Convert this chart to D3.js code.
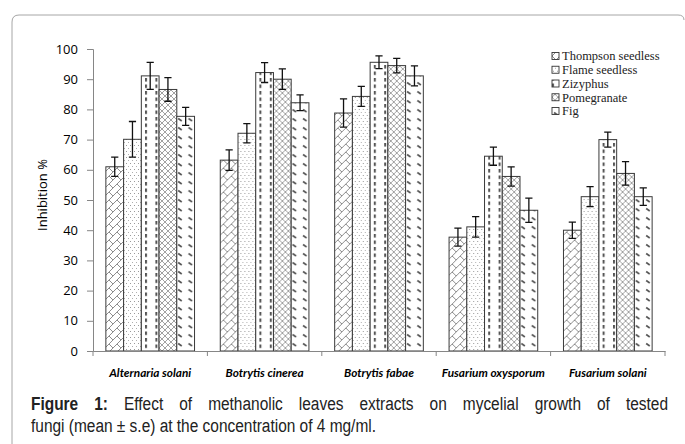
<!DOCTYPE html>
<html>
<head>
<meta charset="utf-8">
<script src="https://cdn.jsdelivr.net/npm/d3@7"></script>
<style>
  html, body { margin: 0; padding: 0; background: #fff; }
  svg { display: block; }
</style>
</head>
<body>
<svg id="chart" width="685" height="444"></svg>
<script>
// ---------- data ----------
const categories = ["Alternaria solani", "Botrytis cinerea", "Botrytis fabae", "Fusarium oxysporum", "Fusarium solani"];
const seriesNames = ["Thompson seedless", "Flame seedless", "Zizyphus", "Pomegranate", "Fig"];
const thompsonValues = [61.0, 63.2, 78.8, 37.7, 40.0];
const thompsonErr    = [3.2, 3.4, 4.7, 3.0, 2.7];
const flameValues    = [70.1, 72.1, 84.3, 41.1, 51.1];
const flameErr       = [5.9, 3.2, 3.3, 3.4, 3.3];
const zizyphusValues = [91.1, 92.2, 95.6, 64.5, 70.0];
const zizyphusErr    = [4.5, 3.3, 2.1, 3.0, 2.5];
const pomegranateValues = [86.6, 90.0, 94.5, 57.8, 58.8];
const pomegranateErr    = [3.9, 3.4, 2.4, 3.2, 3.9];
const figValues      = [77.7, 82.2, 91.1, 46.6, 51.1];
const figErr         = [3.0, 2.6, 3.3, 4.0, 2.9];
const yTicks = [0, 10, 20, 30, 40, 50, 60, 70, 80, 90, 100];
const yLabel = "Inhibition %";
const captionBold = "Figure 1:";
const captionLine1 = "Effect of methanolic leaves extracts on mycelial growth of tested";
const captionLine2 = "fungi (mean \u00b1 s.e) at the concentration of 4 mg/ml.";

const seriesValues = [thompsonValues, flameValues, zizyphusValues, pomegranateValues, figValues];
const seriesErrs = [thompsonErr, flameErr, zizyphusErr, pomegranateErr, figErr];
const patternIds = ["pBrick", "pDots", "pVdash", "pCross", "pDiagDash"];

// ---------- setup ----------
const svg = d3.select("#chart");
const defs = svg.append("defs");

function pattern(id, w, h) {
  const p = defs.append("pattern").attr("id", id)
    .attr("patternUnits", "userSpaceOnUse").attr("width", w).attr("height", h);
  p.append("rect").attr("width", w).attr("height", h).attr("fill", "#fff");
  return p;
}
{ // diagonal brick
  const p = pattern("pBrick", 8, 8);
  p.append("path").attr("d", "M0,8 L8,0 M-1,1 L1,-1 M7,9 L9,7 M0,0 L4,4 M4,8 L8,12")
    .attr("stroke", "#808080").attr("stroke-width", 0.9).attr("fill", "none");
}
{ // sparse dots
  const p = pattern("pDots", 4, 6);
  p.append("rect").attr("x", 1).attr("y", 1).attr("width", 1).attr("height", 1).attr("fill", "#9a9a9a");
  p.append("rect").attr("x", 3).attr("y", 4).attr("width", 1).attr("height", 1).attr("fill", "#b0b0b0");
}
{ // vertical dashes
  const p = pattern("pVdash", 10.4, 6.5);
  p.append("rect").attr("x", 0).attr("y", 0).attr("width", 2).attr("height", 3.5).attr("fill", "#555");
}
{ // diagonal cross
  const p = pattern("pCross", 6, 6);
  p.append("path").attr("d", "M0,0 L6,6 M6,0 L0,6 M-1,5 L1,7 M5,-1 L7,1 M-1,1 L1,-1 M5,7 L7,5")
    .attr("stroke", "#8a8a8a").attr("stroke-width", 0.8).attr("fill", "none");
}
{ // short diagonal dashes
  const p = pattern("pDiagDash", 10.4, 9);
  p.append("path").attr("d", "M2,1.5 L5.5,4").attr("stroke", "#555").attr("stroke-width", 1.6)
    .attr("fill", "none");
}

// Frame
svg.append("path")
  .attr("d", "M12,444 L12,22 Q12,15 19,15 L678,15 Q684,15 684,20")
  .attr("fill", "none").attr("stroke", "#a6a6a6").attr("stroke-width", 1);

// Scales
const x0 = 93, x1 = 665, yBottom = 351, yTop = 49;
const x = d3.scaleBand().domain(categories).range([x0, x1]).paddingInner(0).paddingOuter(0);
const bw = x.bandwidth();
const inner = d3.scaleBand().domain(seriesNames).range([bw * 0.1125, bw * (1 - 0.1125)]).padding(0);
const y = d3.scaleLinear().domain([0, 100]).range([yBottom, yTop]);

// Y axis
const yAxis = d3.axisLeft(y).tickValues(yTicks).tickSize(6).tickPadding(9).tickFormat(d3.format("d"));
const gy = svg.append("g").attr("transform", `translate(${x0},0)`).call(yAxis);
gy.select(".domain").attr("stroke", "#868686");
gy.selectAll(".tick line").attr("stroke", "#868686");
gy.selectAll(".tick text").attr("font-family", "'Open Sans', 'Liberation Sans', sans-serif")
  .attr("font-size", 13).attr("fill", "#000");

// Y label
svg.append("text")
  .attr("transform", "translate(47,195) rotate(-90)")
  .attr("text-anchor", "middle")
  .attr("font-family", "'Open Sans', 'Liberation Sans', sans-serif")
  .attr("font-size", 13).attr("fill", "#000")
  .text(yLabel);

// Bars
const groups = svg.append("g").selectAll("g").data(categories).join("g")
  .attr("transform", c => `translate(${x(c)},0)`);

seriesNames.forEach((s, si) => {
  groups.append("rect")
    .attr("x", inner(s))
    .attr("y", (c, ci) => y(seriesValues[si][ci]))
    .attr("width", inner.bandwidth())
    .attr("height", (c, ci) => yBottom - y(seriesValues[si][ci]))
    .attr("fill", `url(#${patternIds[si]})`)
    .attr("stroke", "#3a3a3a").attr("stroke-width", 1);
});

// Error bars
seriesNames.forEach((s, si) => {
  const cx = inner(s) + inner.bandwidth() / 2;
  const capW = 3.6;
  groups.append("path")
    .attr("d", (c, ci) => {
      const v = seriesValues[si][ci], e = seriesErrs[si][ci];
      const yt = y(v + e), yb = y(v - e);
      return `M${cx},${yt} L${cx},${yb} M${cx - capW},${yt} L${cx + capW},${yt} M${cx - capW},${yb} L${cx + capW},${yb}`;
    })
    .attr("fill", "none").attr("stroke", "#111").attr("stroke-width", 1.3);
});

// X axis
const xAxis = d3.axisBottom(x).tickSize(0).tickPadding(18);
const gx = svg.append("g").attr("transform", `translate(0,${yBottom})`).call(xAxis);
gx.select(".domain").attr("stroke", "#868686");
gx.selectAll(".tick text")
  .attr("font-family", "Lato, 'Open Sans', sans-serif")
  .attr("font-size", 11.8).attr("font-weight", "bold").attr("font-style", "italic").attr("fill", "#000");
const boundaries = categories.map(c => x(c)).concat([x1]);
gx.append("g").selectAll("line").data(boundaries).join("line")
  .attr("x1", d => d).attr("x2", d => d).attr("y1", 0).attr("y2", 5)
  .attr("stroke", "#868686");

// Legend
const legend = svg.append("g").attr("transform", "translate(552,56)");
seriesNames.forEach((s, i) => {
  const g = legend.append("g").attr("transform", `translate(0,${i * 13.75})`);
  g.append("rect").attr("x", 0).attr("y", -3.5).attr("width", 7).attr("height", 7)
    .attr("fill", `url(#${patternIds[i]})`).attr("stroke", "#333").attr("stroke-width", 0.9);
  g.append("text").attr("x", 10).attr("y", 0).attr("dy", "0.35em")
    .attr("font-family", "'Liberation Serif', 'Times New Roman', serif")
    .attr("font-size", 12.5).attr("fill", "#222").text(s);
});

// Caption (slightly condensed sans, first line justified)
const capFont = "'Liberation Sans', Arial, sans-serif";
const capSize = 18;
const capLeft = 31, capRight = 668, line2Target = 345;
const cap = svg.append("g");
const l2 = cap.append("text").attr("x", capLeft).attr("y", 432)
  .attr("font-family", capFont).attr("font-size", capSize).attr("fill", "#222").text(captionLine2);
const w2 = l2.node().getComputedTextLength();
const condense = Math.min(1, line2Target / w2);
l2.attr("textLength", w2 * condense).attr("lengthAdjust", "spacingAndGlyphs");

const words1 = captionBold.split(" ").map(w => ({ w, b: true }))
  .concat(captionLine1.split(" ").map(w => ({ w, b: false })));
const nodes = words1.map(o => cap.append("text")
  .attr("y", 410).attr("font-family", capFont).attr("font-size", capSize)
  .attr("font-weight", o.b ? "bold" : "normal").attr("fill", "#222").text(o.w));
const widths = nodes.map(n => n.node().getComputedTextLength() * condense);
const total = d3.sum(widths);
const gap = (capRight - capLeft - total) / (nodes.length - 1);
let cxp = capLeft;
nodes.forEach((n, i) => {
  n.attr("x", cxp).attr("textLength", widths[i]).attr("lengthAdjust", "spacingAndGlyphs");
  cxp += widths[i] + gap;
});
</script>
</body>
</html>
